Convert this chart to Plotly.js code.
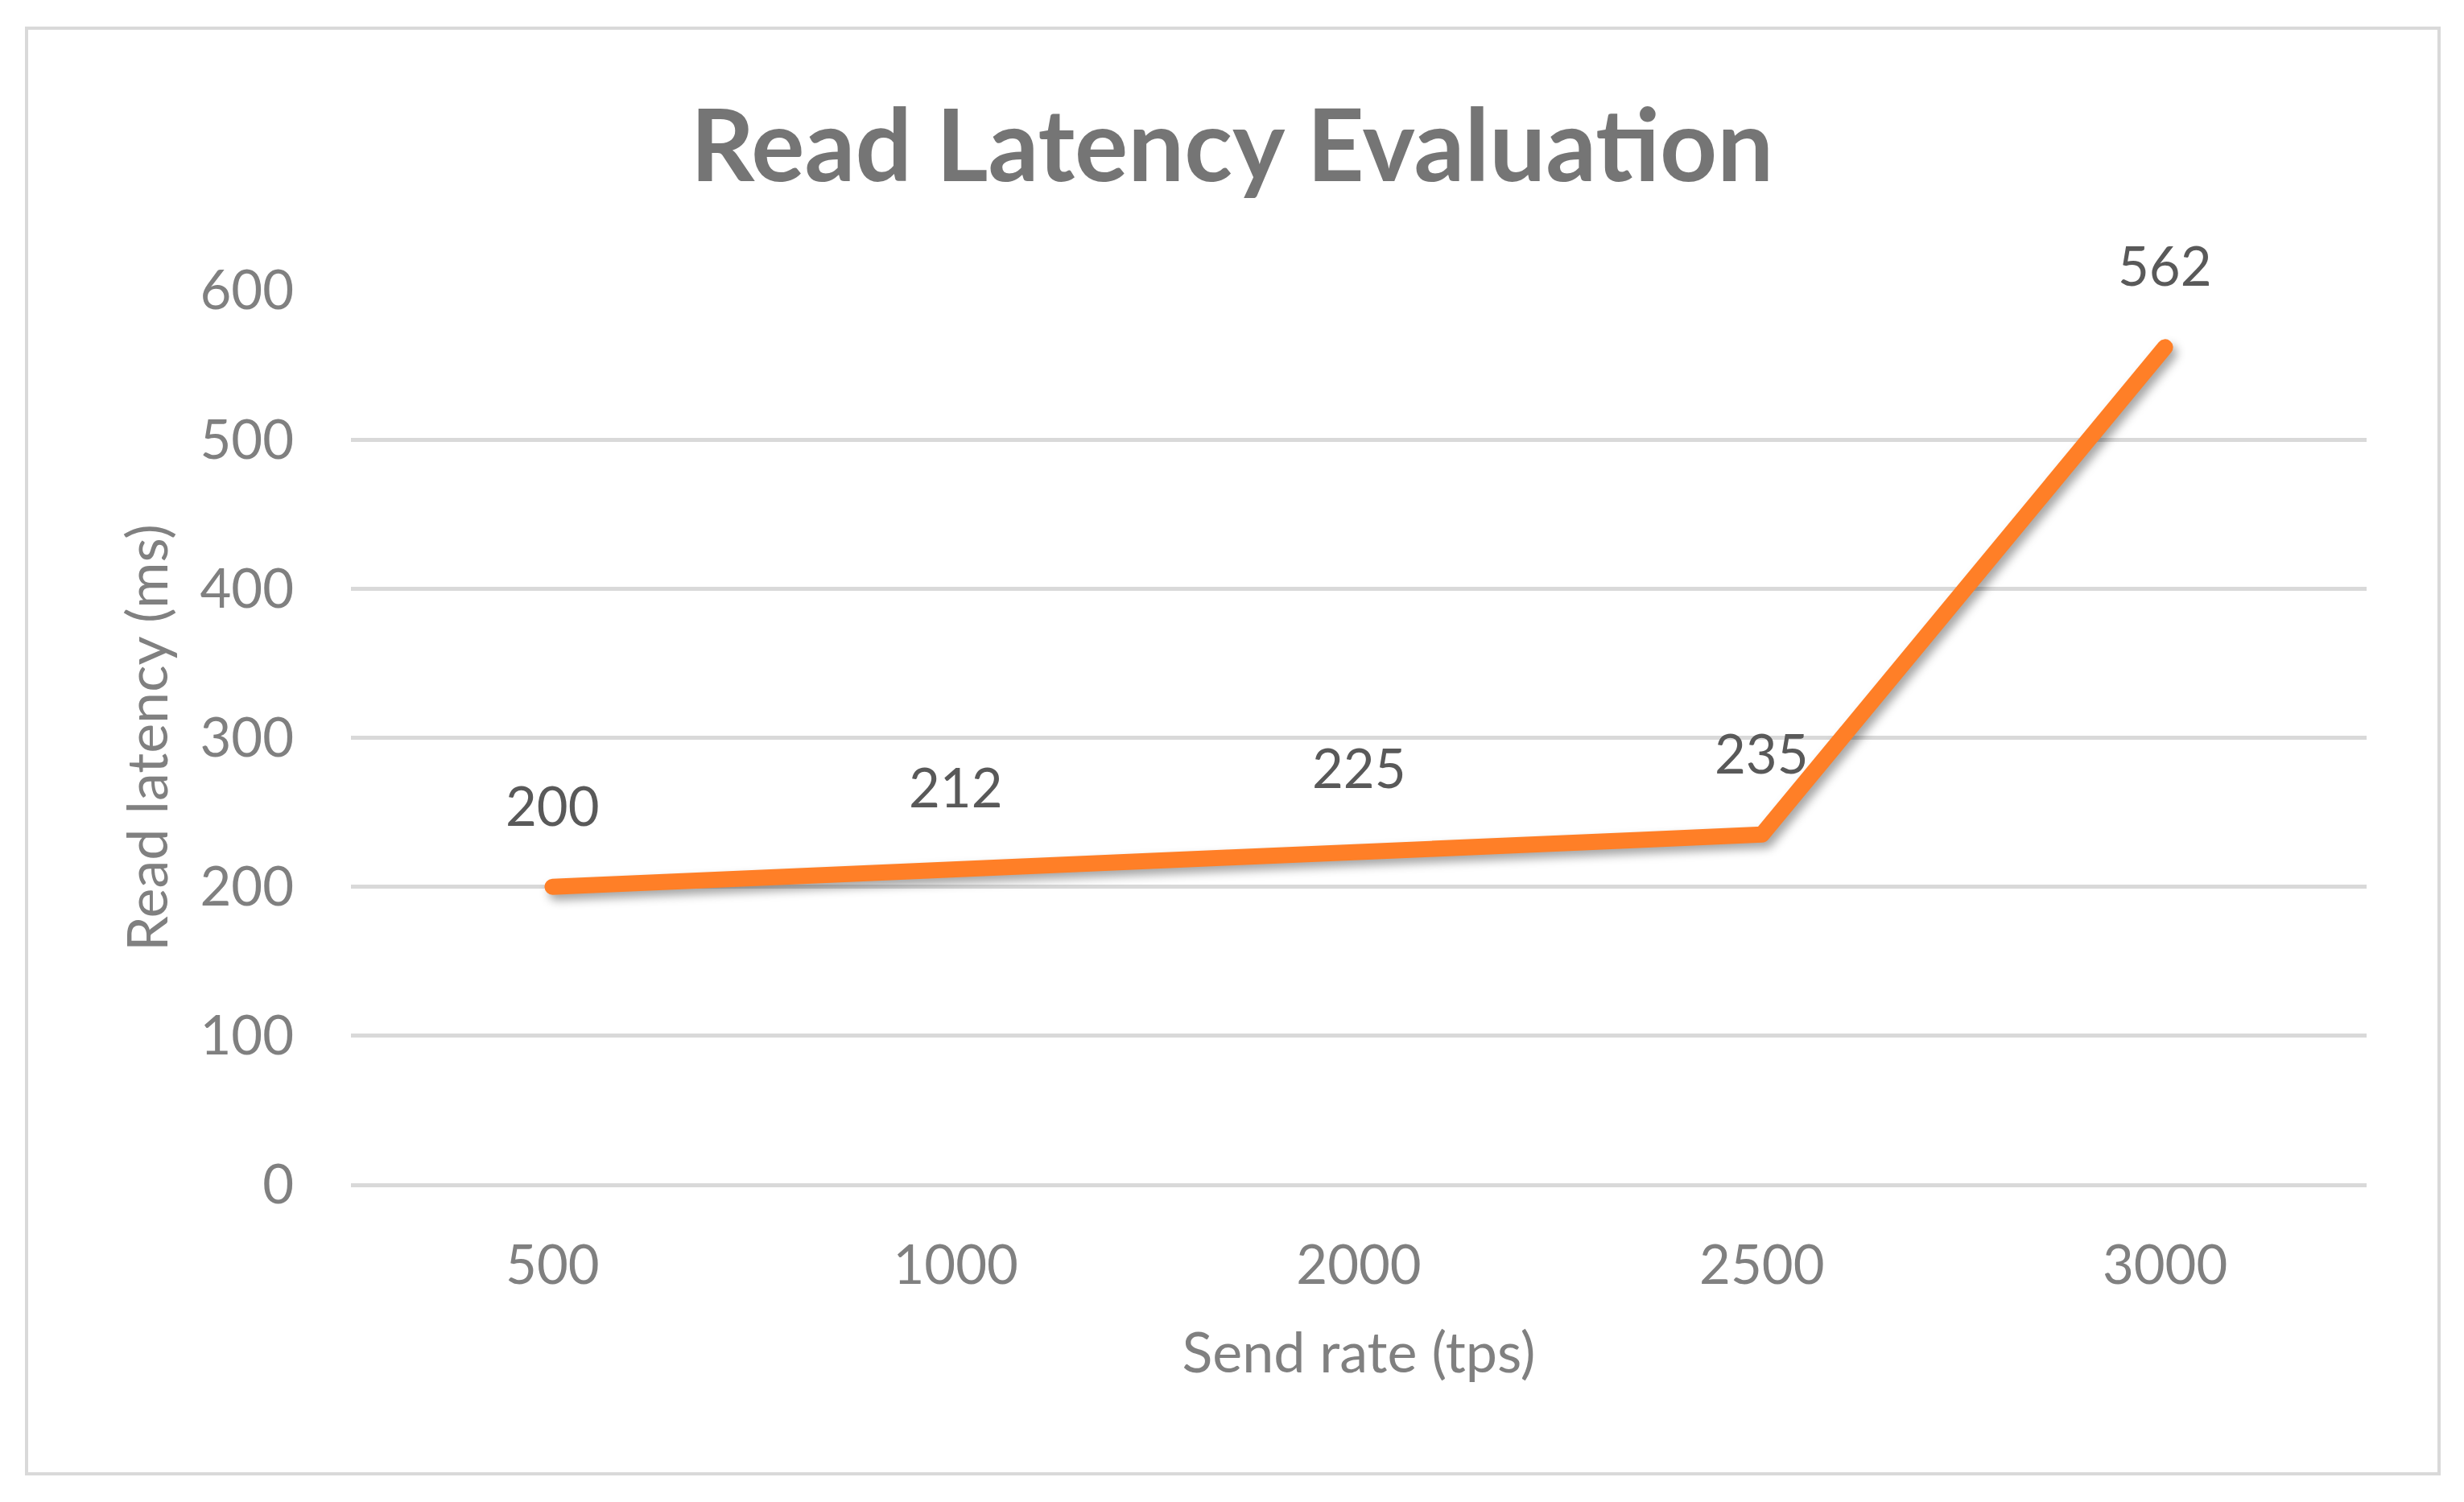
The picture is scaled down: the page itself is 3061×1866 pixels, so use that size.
<!DOCTYPE html>
<html>
<head>
<meta charset="utf-8">
<script src="https://cdn.plot.ly/plotly-3.0.1.min.js"></script>
<style>
  html, body { margin: 0; padding: 0; background: #fff; }
  #chart { width: 3061px; height: 1866px; }
  #frame { position: absolute; left: 31px; top: 33px; width: 2993px; height: 1792px;
           border: 4px solid #d9d9d9; pointer-events: none; }
  #chart .js-line { stroke-linecap: round; stroke-linejoin: round;
                    filter: drop-shadow(5px 7px 6px rgba(0,0,0,0.35)); }
</style>
</head>
<body>
<div id="chart"></div>
<div id="frame"></div>
<script>
// Send rate categories and measured read latency (ms)
const sendRates = ['500', '1000', '2000', '2500', '3000'];
const latency = [200, 212, 225, 235, 562];
const yTicks = [0, 100, 200, 300, 400, 500, 600];

const FONT = 'Lato, "Open Sans", sans-serif';

const data = [{
    type: 'scatter',
    mode: 'lines',
    x: sendRates,
    y: latency,
    line: { color: '#ff7f27', width: 20 },
    hoverinfo: 'skip',
    cliponaxis: false,
}];

// etichette sopra i punti (x = indice di categoria)
const labels = latency.map((v, i) => ({
    x: i,
    y: v,
    xref: 'x', yref: 'y',
    text: String(v),
    showarrow: false,
    yshift: 102,
    font: { family: FONT, size: 67, color: '#595959' },
}));

const layout = {
    width: 3061,
    height: 1866,
    margin: { l: 436, r: 121, t: 361, b: 394 },
    paper_bgcolor: '#fff',
    plot_bgcolor: '#fff',
    showlegend: false,
    font: { family: FONT, color: '#808080' },
    title: {
        text: '<b>Read Latency Evaluation</b>',
        font: { family: FONT, size: 124, color: '#757575' },
        x: 0.5, xref: 'container', xanchor: 'center',
        y: 1 - 182 / 1866, yref: 'container', yanchor: 'middle',
    },
    xaxis: {
        type: 'category',
        range: [-0.5, 4.5],
        showgrid: false,
        showline: false,
        zeroline: false,
        ticks: '',
        ticklabelstandoff: 55,
        tickfont: { family: FONT, size: 67, color: '#808080' },
        title: { text: 'Send rate (tps)', standoff: 47,
                 font: { family: FONT, size: 70, color: '#808080' } },
        fixedrange: true,
    },
    yaxis: {
        range: [0, 600],
        tickvals: yTicks,
        showgrid: true,
        gridcolor: '#d9d9d9',
        gridwidth: 5,
        zeroline: true,
        zerolinecolor: '#d9d9d9',
        zerolinewidth: 5,
        showline: false,
        ticks: '',
        ticklabelstandoff: 70,
        tickfont: { family: FONT, size: 67, color: '#808080' },
        title: { text: 'Read latency (ms)', standoff: 16,
                 font: { family: FONT, size: 70, color: '#808080' } },
        fixedrange: true,
    },
    annotations: labels,
};

Plotly.newPlot('chart', data, layout, { displayModeBar: false, staticPlot: true });
</script>
</body>
</html>
